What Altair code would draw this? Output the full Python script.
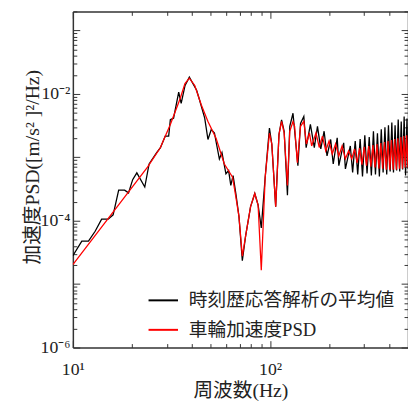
import altair as alt
import pandas as pd

# ---------------- data ----------------
series_names = ["時刻歴応答解析の平均値", "車輪加速度PSD"]
series_colors = ["#000000", "#ff0000"]

black_freq = [10.0, 11.1, 12.0, 12.97, 13.99, 15.1, 16.0, 17.07, 18.3, 19.15, 20.1, 21.1,
              23.15, 24.35, 26.6, 27.8, 29.4, 30.6, 31.2, 32.4, 34.4, 35.4, 37.05, 38.95,
              42.4, 43.65, 46.6, 48.4, 50.3, 52.2, 55.3, 57.0, 59.7, 61.6, 63.2, 64.9,
              67.0, 69.5, 72.3, 75.1, 79.6, 83.6, 86.9, 90.2, 94.4, 99.2, 102.0, 106.7,
              110.9, 114.3, 117.8, 122.4, 125.8, 130.6, 138.3, 142.6, 148.2, 152.3, 160.0,
              167.5, 173.8, 180.7, 187.8, 194.3, 202.8, 208.9, 218.8, 223.0, 236.0, 240.8,
              255.0, 262, 270, 278, 286, 294, 302, 310, 318, 326, 334, 342, 350, 358, 366,
              374, 382, 390, 398, 406, 414, 422, 430, 438, 446, 454, 462, 470, 478, 486,
              494, 500]
black_psd = [2.8e-5, 4.78e-5, 4.78e-5, 6.82e-5, 1.06e-4, 1.06e-4, 1.24e-4, 3.03e-4, 3.03e-4,
             2.75e-4, 4.44e-4, 5.69e-4, 3.40e-4, 7.85e-4, 1.19e-3, 1.42e-3, 2.16e-3, 2.16e-3,
             3.91e-3, 4.14e-3, 1.07e-2, 7.08e-3, 1.36e-2, 1.84e-2, 1.14e-2, 8.45e-3, 4.14e-3,
             1.91e-3, 2.74e-3, 2.42e-3, 9.4e-4, 1.19e-3, 5.5e-4, 6.18e-4, 3.61e-4, 5.16e-4,
             2.69e-4, 1.17e-4, 2.34e-5, 5.72e-5, 1.67e-4, 2.69e-4, 1.77e-4, 7.7e-5, 4.86e-4,
             2.9e-3, 1.60e-3, 1.67e-4, 2.29e-3, 3.9e-3, 2.58e-3, 2.53e-4, 3.08e-3, 4.95e-3,
             7.4e-4, 3.43e-3, 4.4e-3, 1.42e-3, 3.31e-3, 1.42e-3, 3.08e-3, 1.36e-3, 2.58e-3,
             1.05e-3, 1.91e-3, 7.85e-4, 2.03e-3, 7.4e-4, 1.69e-3, 6.56e-4, 1.51e-3,
             5.75e-4, 1.80e-3, 5.36e-4, 1.94e-3, 4.99e-4, 2.23e-3, 5.55e-4, 2.08e-3, 5.16e-4,
             2.58e-3, 5.36e-4, 2.40e-3, 4.99e-4, 2.77e-3, 5.75e-4, 2.97e-3, 5.36e-4, 3.19e-3,
             5.96e-4, 3.55e-3, 5.75e-4, 3.19e-3, 6.18e-4, 3.95e-3, 5.96e-4, 3.68e-3, 6.4e-4,
             4.4e-3, 5.16e-4, 4.1e-3, 6.6e-4]

red_freq = [10.0, 23.9, 27.7, 31.2, 35.0, 37.0, 38.95, 41.5, 44.8, 48.4, 53.2, 58.6, 64.5,
            67.0, 69.5, 72.3, 75.1, 79.6, 83.6, 86.9, 90.2, 94.4, 99.2, 102.0, 106.7, 110.9,
            114.3, 117.8, 122.4, 125.8, 130.6, 133.1, 137.4, 142.6, 148.2, 152.7, 158.2,
            162.4, 170.8, 177.4, 184.2, 191.4, 198.9, 206.5, 214.7, 223.0, 231.6, 240.8,
            250.0, 259.5, 268, 276, 284, 292, 300, 308, 316, 324, 332, 340, 348, 356, 364,
            372, 380, 388, 396, 404, 412, 420, 428, 436, 444, 452, 460, 468, 476, 484, 492, 500]
red_psd = [2.03e-5, 7.0e-4, 1.40e-3, 3.3e-3, 8.45e-3, 1.45e-2, 1.77e-2, 1.36e-2, 6.7e-3,
           3.68e-3, 2.0e-3, 7.85e-4, 4.86e-4, 2.4e-4, 1.17e-4, 2.75e-5, 5.7e-5, 1.67e-4,
           2.69e-4, 1.77e-4, 1.65e-5, 4.86e-4, 2.4e-3, 1.62e-3, 1.67e-4, 2.31e-3, 3.68e-3,
           2.40e-3, 3.6e-4, 2.58e-3, 3.68e-3, 3.08e-3, 8.2e-4, 3.08e-3, 3.7e-3, 1.62e-3,
           2.42e-3, 1.51e-3, 2.42e-3, 1.43e-3, 2.16e-3, 1.26e-3, 1.80e-3, 1.13e-3, 1.62e-3,
           1.05e-3, 1.51e-3, 9.5e-4, 1.26e-3, 9.5e-4,
           1.36e-3, 8.2e-4, 1.40e-3, 7.65e-4, 1.46e-3, 7.4e-4, 1.51e-3, 7.13e-4, 1.56e-3,
           6.9e-4, 1.62e-3, 6.6e-4, 1.68e-3, 6.6e-4, 1.74e-3, 6.4e-4, 1.80e-3, 6.4e-4,
           1.87e-3, 6.4e-4, 1.94e-3, 6.4e-4, 2.0e-3, 6.6e-4, 2.08e-3, 6.6e-4, 2.16e-3,
           6.9e-4, 2.23e-3, 6.9e-4]

# tick positions / labels
x_major = [10, 100]
x_minor = [20, 30, 40, 50, 60, 70, 80, 90, 200, 300, 400]
y_major = [1e-6, 1e-5, 1e-4, 1e-3, 1e-2, 1e-1]
y_minor = [m * d for d in [1e-6, 1e-5, 1e-4, 1e-3, 1e-2, 1e-1] for m in range(2, 10) if m * d <= 0.2]
x_label_expr = "datum.value == 10 ? '10¹' : datum.value == 100 ? '10²' : ''"
y_label_expr = ("abs(log(datum.value)/LN10 + 6) < 0.01 ? '10⁻⁶' : "
                "abs(log(datum.value)/LN10 + 4) < 0.01 ? '10⁻⁴' : "
                "abs(log(datum.value)/LN10 + 2) < 0.01 ? '10⁻²' : ''")
x_title = "周波数(Hz)"
y_title = "加速度PSD([m/s² ]²/Hz)"

FONT = "Liberation Serif, Noto Sans CJK JP"
TXT = "#222222"
AX = "#333333"

df_black = pd.DataFrame({"freq": black_freq, "psd": black_psd, "series": series_names[0]})
df_red = pd.DataFrame({"freq": red_freq, "psd": red_psd, "series": series_names[1]})

x_scale = alt.Scale(type="log", domain=[10, 500], nice=False)
y_scale = alt.Scale(type="log", domain=[1e-6, 0.2], nice=False)

color = alt.Color(
    "series:N",
    scale=alt.Scale(domain=series_names, range=series_colors),
    legend=alt.Legend(
        title=None, orient="none", legendX=76, legendY=278, symbolType="stroke",
        symbolSize=900, symbolStrokeWidth=2, labelFontSize=19, labelFont=FONT,
        labelColor=TXT, labelOffset=10, rowPadding=4, padding=0, labelLimit=0,
    ),
)


def axis(orient, values, size, labeled=False, expr=None, title=None, domain=False, **kw):
    args = dict(orient=orient, values=values, tickSize={"expr": str(-size)}, grid=False,
                tickColor=AX, tickWidth=1, domain=domain, domainColor=AX, domainWidth=1.5,
                labels=labeled, title=title)
    if labeled:
        args.update(labelExpr=expr, labelFont=FONT, labelFontSize=18, labelColor=TXT,
                    labelFlush=False, labelOverlap=False)
    if title is not None:
        args.update(titleFont=FONT, titleFontSize=20, titleFontWeight="normal", titleColor=TXT)
    args.update(kw)
    return alt.Axis(**args)


black = alt.Chart(df_black).mark_line(strokeWidth=1.3, clip=True).encode(
    x=alt.X("freq:Q", scale=x_scale,
            axis=axis("bottom", x_major, 7, True, x_label_expr, x_title, True,
                      labelPadding=20, titleY=44, titleBaseline="middle")),
    y=alt.Y("psd:Q", scale=y_scale,
            axis=axis("left", y_major, 7, True, y_label_expr, y_title, True,
                      labelPadding=10, titleX=-41, titleY=158, titleAngle=270,
                      titleAlign="center", titleBaseline="middle")),
    color=color,
)
red = alt.Chart(df_red).mark_line(strokeWidth=1.3, clip=True).encode(
    x=alt.X("freq:Q", scale=x_scale, axis=axis("bottom", x_minor, 4)),
    y=alt.Y("psd:Q", scale=y_scale, axis=axis("left", y_minor, 4)),
    color=color,
)
top_major = alt.Chart(df_red).mark_line(strokeOpacity=0).encode(
    x=alt.X("freq:Q", scale=x_scale, axis=axis("top", x_major, 7, domain=True)),
    y=alt.Y("psd:Q", scale=y_scale, axis=axis("right", y_major, 7, domain=True)),
)
top_minor = alt.Chart(df_red).mark_line(strokeOpacity=0).encode(
    x=alt.X("freq:Q", scale=x_scale, axis=axis("top", x_minor, 4)),
    y=alt.Y("psd:Q", scale=y_scale, axis=axis("right", y_minor, 4)),
)

chart = (
    alt.layer(black, red, top_major, top_minor)
    .resolve_axis(x="independent", y="independent")
    .properties(width=341, height=342, autosize=alt.AutoSizeParams(type="none"),
                padding={"left": 66, "top": 0, "right": 0, "bottom": 55})
    .configure_view(strokeWidth=0)
)

chart.save("out.html", embed_options={"renderer": "svg", "actions": False})
